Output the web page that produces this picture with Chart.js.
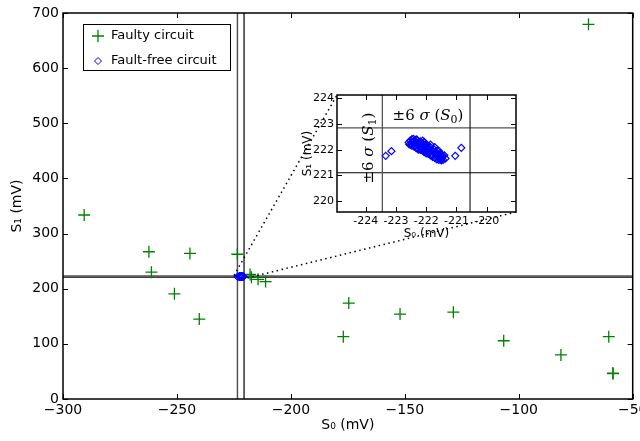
<!DOCTYPE html>
<html>
<head>
<meta charset="utf-8">
<script src="https://cdn.jsdelivr.net/npm/chart.js@4/dist/chart.umd.min.js"></script>
<style>
  body { margin: 0; background: #fff; }
  #wrap { position: relative; width: 640px; height: 441px; }
  #main { position: absolute; left: 0; top: 0; }
  #inset { position: absolute; left: 285px; top: 85px; }
</style>
</head>
<body>
<div id="wrap">
  <canvas id="main" width="640" height="441"></canvas>
  <canvas id="inset" width="240" height="165"></canvas>
</div>
<script>
// faulty circuit signatures (mV)
const faultyS0 = [-290.7, -262.3, -244.3, -223.5, -261.2, -251.1, -240.2, -217.9, -217.3, -214.4, -211.1,
  -174.6, -177.0, -152.1, -128.7, -106.6, -81.5, -60.5, -58.7, -58.6, -69.4];
const faultyS1 = [333.7, 267, 264, 262.5, 230, 190.7, 145, 226, 221, 217, 213,
  174, 113, 154, 157.5, 105.6, 80, 113, 47, 46, 679.5];

// fault-free circuit (Monte Carlo cluster)
const freeS0 = [-222.58, -222.52, -222.50, -222.45, -222.42, -222.38, -222.35, -222.30, -222.28, -222.24,
  -222.20, -222.16, -222.12, -222.10, -222.05, -222.02, -221.98, -221.95, -221.90, -221.88,
  -221.84, -221.80, -221.76, -221.72, -221.68, -221.64, -221.60, -221.56, -221.52, -221.48,
  -221.44, -221.40, -221.36, -222.48, -222.14, -221.92, -221.70, -221.50,
  -222.47, -222.47, -222.40, -222.40, -222.33, -222.33, -222.26, -222.26, -222.19, -222.19,
  -222.12, -222.12, -222.07, -222.07, -222.00, -222.00, -221.93, -221.93, -221.86, -221.86,
  -221.79, -221.79, -221.72, -221.72, -221.65, -221.65, -221.58, -221.58, -221.51, -221.51,
  -221.46, -222.56, -222.25, -221.97, -221.78,
  -223.34, -223.15, -221.04, -220.84];
const freeS1 = [222.28, 222.36, 222.18, 222.30, 222.42, 222.12, 222.26, 222.38, 222.05, 222.20,
  222.32, 222.10, 221.98, 222.24, 222.12, 221.92, 222.20, 222.04, 221.86, 222.12,
  221.96, 221.80, 222.04, 221.90, 221.74, 221.96, 221.82, 221.66, 221.86, 221.72,
  221.60, 221.78, 221.66, 222.22, 222.18, 221.98, 221.84, 221.58,
  222.41, 222.16, 222.12, 222.33, 222.06, 222.40, 222.28, 222.00, 221.99, 222.26,
  222.35, 222.05, 221.90, 222.30, 222.12, 221.85, 221.83, 222.09, 222.20, 221.78,
  221.98, 221.72, 222.10, 221.68, 221.88, 221.62, 221.95, 221.60, 221.80, 221.62,
  221.74, 222.20, 222.14, 221.94, 221.92,
  221.76, 221.94, 221.76, 222.07];

// +/- 6 sigma limits
const limitS0 = [-223.45, -220.55];
const limitS1 = [221.1, 222.85];

// axes
const mainXTicks = [-300, -250, -200, -150, -100, -50];
const mainYTicks = [0, 100, 200, 300, 400, 500, 600, 700];
const insetXRange = [-224.95, -219.03];
const insetYRange = [219.57, 224.13];
const insetXTicks = [-224, -223, -222, -221, -220];
const insetYTicks = [220, 221, 222, 223, 224];

const FONT = "'DejaVu Sans'";
Chart.defaults.font.family = FONT;
Chart.defaults.color = '#000';

const pts = (xs, ys) => xs.map((x, i) => ({ x: x, y: ys[i] }));
const fixTicks = vals => s => { s.ticks = vals.map(v => ({ value: v })); };

function vline(x, y0, y1, color, width) {
  return { type: 'line', data: [{ x: x, y: y0 }, { x: x, y: y1 }], borderColor: color, borderWidth: width,
    pointRadius: 0, showLine: true, fill: false, order: 5 };
}
function hline(y, x0, x1, color, width) {
  return { type: 'line', data: [{ x: x0, y: y }, { x: x1, y: y }], borderColor: color, borderWidth: width,
    pointRadius: 0, showLine: true, fill: false, order: 5 };
}

function limitLines(xr, yr, w) {
  return [
    vline(limitS0[0], yr[0], yr[1], '#555', w), vline(limitS0[1], yr[0], yr[1], '#000', w * 0.8),
    hline(limitS1[1], xr[0], xr[1], '#555', w), hline(limitS1[0], xr[0], xr[1], '#000', w * 0.8)
  ];
}

// frame with inward ticks on all four sides
const frame = {
  id: 'frame',
  afterDatasetsDraw(chart, args, opts) {
    const { ctx, chartArea: a, scales: { x, y } } = chart;
    const L = opts.len || 5;
    ctx.save();
    ctx.strokeStyle = '#000';
    ctx.lineWidth = 1;
    ctx.beginPath();
    x.ticks.forEach(t => {
      const p = Math.round(x.getPixelForValue(t.value)) + 0.5;
      ctx.moveTo(p, a.bottom); ctx.lineTo(p, a.bottom - L);
      ctx.moveTo(p, a.top); ctx.lineTo(p, a.top + L);
    });
    y.ticks.forEach(t => {
      const p = Math.round(y.getPixelForValue(t.value)) + 0.5;
      ctx.moveTo(a.left, p); ctx.lineTo(a.left + L, p);
      ctx.moveTo(a.right, p); ctx.lineTo(a.right - L, p);
    });
    ctx.stroke();
    ctx.lineWidth = opts.border || 1.5;
    ctx.strokeRect(a.left, a.top, a.right - a.left, a.bottom - a.top);
    ctx.restore();
  }
};

const whiteBg = {
  id: 'whiteBg',
  beforeDatasetsDraw(chart) {
    const { ctx, chartArea: a } = chart;
    ctx.save();
    ctx.fillStyle = '#fff';
    ctx.fillRect(a.left, a.top, a.right - a.left, a.bottom - a.top);
    ctx.restore();
  }
};

// draw a short math-like string made of parts [text, italic, sub]
function drawMath(ctx, parts, cx, cy, size) {
  const fontOf = p => (p[1] ? 'italic ' : '') + (p[2] ? Math.round(size * 0.7) : size) + "px 'DejaVu Serif'";
  let w = 0;
  parts.forEach(p => { ctx.font = fontOf(p); w += ctx.measureText(p[0]).width; });
  let x = cx - w / 2;
  ctx.textBaseline = 'middle';
  ctx.textAlign = 'left';
  parts.forEach(p => {
    ctx.font = fontOf(p);
    ctx.fillText(p[0], x, cy + (p[2] ? size * 0.3 : 0));
    x += ctx.measureText(p[0]).width;
  });
}

const sigmaText = {
  id: 'sigmaText',
  afterDatasetsDraw(chart) {
    const { ctx, scales: { x, y } } = chart;
    ctx.save();
    ctx.fillStyle = '#000';
    drawMath(ctx, [['±6 '], ['σ', 1], [' ('], ['S', 1], ['0', 0, 1], [')']],
      x.getPixelForValue(-221.94), y.getPixelForValue(223.31), 15);
    ctx.translate(x.getPixelForValue(-223.9), y.getPixelForValue(222.06));
    ctx.rotate(-Math.PI / 2);
    drawMath(ctx, [['±6 '], ['σ', 1], [' ('], ['S', 1], ['1', 0, 1], [')']], 0, 0, 15);
    ctx.restore();
  }
};

const insetChart = new Chart(document.getElementById('inset'), {
  type: 'scatter',
  data: {
    datasets: [
      { label: 'Fault-free circuit', data: pts(freeS0, freeS1), pointStyle: 'rectRot', pointRadius: 3.5,
        borderColor: '#0000ff', backgroundColor: 'rgba(0,0,0,0)', borderWidth: 1.2, order: 1 },
      ...limitLines(insetXRange, insetYRange, 1.3)
    ]
  },
  options: {
    responsive: false, animation: false, devicePixelRatio: 1,
    layout: { padding: { top: 10, right: 9, left: 0, bottom: 0 } },
    plugins: { legend: { display: false }, tooltip: { enabled: false } },
    scales: {
      x: {
        type: 'linear', min: insetXRange[0], max: insetXRange[1],
        afterBuildTicks: fixTicks(insetXTicks),
        ticks: { font: { size: 11 }, padding: 3, maxRotation: 0, callback: v => String(v) },
        grid: { display: false, drawTicks: false }, border: { display: false },
        title: { display: true, text: 'S₀ (mV)', font: { size: 12 }, padding: { top: 0, bottom: 9 } },
        afterFit(s) { s.height = 38; s.paddingLeft = 0; s.paddingRight = 0; }
      },
      y: {
        type: 'linear', min: insetYRange[0], max: insetYRange[1],
        afterBuildTicks: fixTicks(insetYTicks),
        ticks: { font: { size: 11 }, padding: 3, callback: v => String(v) },
        grid: { display: false, drawTicks: false }, border: { display: false },
        title: { display: true, text: 'S₁ (mV)', font: { size: 12 }, padding: { top: 16, bottom: 0 } },
        afterFit(s) { s.width = 52; s.paddingTop = 0; s.paddingBottom = 0; }
      }
    }
  },
  plugins: [whiteBg, frame, sigmaText]
});

const insetLeft = 285, insetTop = 85;

// dotted connectors from the zoomed region to the inset corners, plus the legend
const overlay = {
  id: 'overlay',
  afterDraw(chart) {
    const { ctx, scales: { x, y } } = chart;
    const ia = insetChart.chartArea;
    ctx.save();
    ctx.strokeStyle = '#000';
    ctx.lineWidth = 1.5;
    ctx.setLineDash([1.5, 3.5]);
    ctx.beginPath();
    ctx.moveTo(x.getPixelForValue(insetXRange[0]), y.getPixelForValue(insetYRange[1]));
    ctx.lineTo(insetLeft + ia.left, insetTop + ia.top);
    ctx.moveTo(x.getPixelForValue(insetXRange[1]), y.getPixelForValue(insetYRange[0]));
    ctx.lineTo(insetLeft + ia.right, insetTop + ia.bottom);
    ctx.stroke();
    ctx.setLineDash([]);

    // legend
    const bx = 83, by = 24, bw = 147, bh = 46;
    ctx.fillStyle = '#fff';
    ctx.fillRect(bx, by, bw, bh);
    ctx.lineWidth = 1;
    ctx.strokeStyle = '#000';
    ctx.strokeRect(bx + 0.5, by + 0.5, bw, bh);
    const ds = chart.data.datasets;
    ctx.textBaseline = 'middle';
    ctx.textAlign = 'left';
    [0, 1].forEach(i => {
      const d = ds[i];
      const cy = by + 12 + i * 25;
      ctx.fillStyle = i === 0 ? d.borderColor : 'rgba(0,0,0,0)';
      ctx.strokeStyle = d.borderColor;
      ctx.lineWidth = d.borderWidth;
      Chart.helpers.drawPoint(ctx, {
        pointStyle: d.pointStyle, radius: i === 0 ? 6 : 3.5, borderWidth: d.borderWidth
      }, 98, cy);
      ctx.font = "13px " + FONT;
      ctx.fillStyle = '#000';
      ctx.fillText(d.label, 111, cy);
    });
    ctx.restore();
  }
};

const mainChart = new Chart(document.getElementById('main'), {
  type: 'scatter',
  data: {
    datasets: [
      { label: 'Faulty circuit', data: pts(faultyS0, faultyS1), pointStyle: 'cross', pointRadius: 6,
        borderColor: '#008000', backgroundColor: '#008000', borderWidth: 1.3, order: 2 },
      { label: 'Fault-free circuit', data: pts(freeS0, freeS1), pointStyle: 'rectRot', pointRadius: 4,
        borderColor: '#0000ff', backgroundColor: 'rgba(0,0,0,0)', borderWidth: 1, order: 1 },
      ...limitLines([-300, -50], [0, 700], 1.5)
    ]
  },
  options: {
    responsive: false, animation: false, devicePixelRatio: 1,
    layout: { padding: { top: 13, right: 3, left: 0, bottom: 0 } },
    plugins: { legend: { display: false }, tooltip: { enabled: false } },
    scales: {
      x: {
        type: 'linear', min: -300, max: -50,
        afterBuildTicks: fixTicks(mainXTicks),
        ticks: { font: { size: 14 }, padding: 3, maxRotation: 0, callback: v => String(v).replace('-', '−') },
        grid: { display: false, drawTicks: false }, border: { display: false },
        title: { display: true, text: 'S₀ (mV)', font: { size: 14 }, padding: { top: 0, bottom: 7 } },
        afterFit(s) { s.height = 42; s.paddingLeft = 0; s.paddingRight = 0; }
      },
      y: {
        type: 'linear', min: 0, max: 700,
        afterBuildTicks: fixTicks(mainYTicks),
        ticks: { font: { size: 14 }, padding: 4 },
        grid: { display: false, drawTicks: false }, border: { display: false },
        title: { display: true, text: 'S₁ (mV)', font: { size: 14 }, padding: { top: 9, bottom: 0 } },
        afterFit(s) { s.width = 63; s.paddingTop = 0; s.paddingBottom = 0; }
      }
    }
  },
  plugins: [frame, overlay]
});
</script>
</body>
</html>
